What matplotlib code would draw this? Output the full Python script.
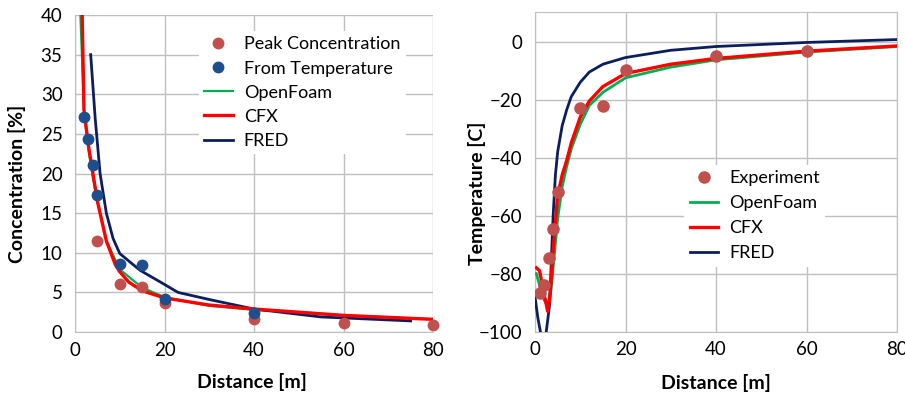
import matplotlib
matplotlib.use('Agg')
import matplotlib.pyplot as plt

plt.rcParams['font.family'] = ['Lato', 'DejaVu Sans']

# ---- left panel: concentration ----
peak_x = [5, 10, 15, 20, 40, 60, 80]
peak_y = [11.5, 6.0, 5.7, 3.6, 1.6, 1.2, 0.9]

temp_x = [2, 3, 4, 5, 10, 15, 20, 40]
temp_y = [27.1, 24.3, 21.1, 17.3, 8.6, 8.4, 4.2, 2.4]

of_c_x = [1.2, 2, 3, 4, 5, 7, 10, 15, 20, 30, 40, 60, 80]
of_c_y = [40, 28, 23, 19.5, 16.5, 11.5, 7.9, 5.6, 4.4, 3.3, 2.8, 2.1, 1.6]

cfx_c_x = [1.6, 2, 3, 4, 5, 7, 9, 10, 12, 15, 20, 30, 40, 60, 80]
cfx_c_y = [40, 28, 23.5, 20, 16.5, 11.5, 8.5, 7.6, 6.3, 5.2, 4.3, 3.4, 2.9, 2.1, 1.6]

fred_c_x = [3.5, 4.5, 5.6, 7, 8.5, 10, 14.5, 20, 23, 30, 40, 55, 75]
fred_c_y = [35, 27, 20, 15, 11.8, 9.9, 7.8, 6.0, 5.0, 4.1, 2.9, 1.9, 1.4]

# ---- right panel: temperature ----
exp_x = [1, 2, 3, 4, 5, 10, 15, 20, 40, 60]
exp_y = [-86.5, -84, -74.5, -64.5, -51.7, -22.8, -22.2, -9.8, -4.8, -3.2]

of_t_x = [0.3, 1, 2, 2.8, 3.5, 4, 5, 6, 7, 8, 10, 12, 15, 20, 30, 40, 60, 80]
of_t_y = [-80, -84, -89, -91, -86, -78, -61, -50, -43, -37, -28.5, -22, -17.5, -12.5, -8.8, -6.3, -3.6, -1.7]

cfx_t_x = [0.3, 1, 2, 2.8, 3.3, 4, 5, 6, 7, 8, 10, 12, 15, 20, 30, 40, 60, 80]
cfx_t_y = [-78, -79, -87, -93, -88, -72, -53, -46, -41, -35, -26, -20.5, -15.5, -11, -7.8, -5.8, -3.3, -1.5]

fred_t_x = [0, 0.6, 1.3, 2.4, 3.2, 4, 4.5, 5, 6, 7, 8, 10, 12, 15, 20, 30, 40, 60, 80]
fred_t_y = [-88, -95, -101, -101, -91, -60, -46, -38, -29, -23.5, -19, -14, -10.5, -7.8, -5.5, -3, -1.7, -0.3, 0.7]

brown = '#C0504D'
blue = '#1F4E8C'
green = '#00B050'
red = '#FF0000'
navy = '#0C1F5C'
grid_c = '#BFBFBF'

fig = plt.figure(figsize=(9.05, 3.98), dpi=100)
ax1 = fig.add_axes([0.0829, 0.1658, 0.3956, 0.7965])
ax2 = fig.add_axes([0.5912, 0.1666, 0.4000, 0.8040])

for ax in (ax1, ax2):
    ax.set_axisbelow(True)
    ax.grid(True, color=grid_c, linewidth=1.0)
    ax.tick_params(length=0, labelsize=13.5)
    ax.tick_params(axis='y', pad=9)
    ax.tick_params(axis='x', pad=7)
    for s in ax.spines.values():
        s.set_color(grid_c)

# left
ax1.plot(of_c_x, of_c_y, color=green, lw=1.6, label='OpenFoam', zorder=3)
ax1.plot(cfx_c_x, cfx_c_y, color=red, lw=2.4, label='CFX', zorder=4)
ax1.plot(fred_c_x, fred_c_y, color=navy, lw=2.0, label='FRED', zorder=3)
ax1.plot(peak_x, peak_y, 'o', color=brown, ms=7.5, label='Peak Concentration', zorder=5, clip_on=False)
ax1.plot(temp_x, temp_y, 'o', color=blue, ms=7.5, label='From Temperature', zorder=6, clip_on=False)
ax1.set_xlim(0, 80)
ax1.set_ylim(0, 40)
ax1.set_xticks([0, 20, 40, 60, 80])
ax1.set_yticks(range(0, 41, 5))
ax1.spines['top'].set_visible(False)
ax1.spines['right'].set_visible(False)
ax1.set_xlabel('Distance [m]', fontsize=14, fontweight='bold')
ax1.set_ylabel('Concentration [%]', fontsize=14, fontweight='bold')
ax1.xaxis.set_label_coords(0.493, -0.129)
ax1.yaxis.set_label_coords(-0.137, 0.468)
h, l = ax1.get_legend_handles_labels()
order = [3, 4, 0, 1, 2]
leg1 = ax1.legend([h[i] for i in order], [l[i] for i in order], loc='upper left',
                  bbox_to_anchor=(0.32, 0.978), fontsize=13, frameon=True,
                  facecolor='white', edgecolor='none', framealpha=1,
                  handlelength=1.6, handletextpad=0.6, labelspacing=0.45,
                  borderpad=0.3)
leg1.set_zorder(10)

# right
ax2.plot(of_t_x, of_t_y, color=green, lw=2.0, label='OpenFoam', zorder=3)
ax2.plot(cfx_t_x, cfx_t_y, color=red, lw=2.4, label='CFX', zorder=4)
ax2.plot(fred_t_x, fred_t_y, color=navy, lw=2.0, label='FRED', zorder=3)
ax2.plot(exp_x, exp_y, 'o', color=brown, ms=8, label='Experiment', zorder=5)
ax2.set_xlim(0, 80)
ax2.set_ylim(-100, 10.3)
ax2.set_xticks([0, 20, 40, 60, 80])
ax2.set_yticks(range(-100, 1, 20))
ax2.set_xlabel('Distance [m]', fontsize=14, fontweight='bold')
ax2.set_ylabel('Temperature [C]', fontsize=14, fontweight='bold')
ax2.xaxis.set_label_coords(0.5, -0.132)
ax2.yaxis.set_label_coords(-0.135, 0.433)
h, l = ax2.get_legend_handles_labels()
order = [3, 0, 1, 2]
leg2 = ax2.legend([h[i] for i in order], [l[i] for i in order], loc='upper left',
                  bbox_to_anchor=(0.387, 0.55), fontsize=13, frameon=True,
                  facecolor='white', edgecolor='none', framealpha=1,
                  handlelength=1.6, handletextpad=0.6, labelspacing=0.5,
                  borderpad=0.3)
leg2.set_zorder(10)

fig.savefig('out.png', dpi=100)
